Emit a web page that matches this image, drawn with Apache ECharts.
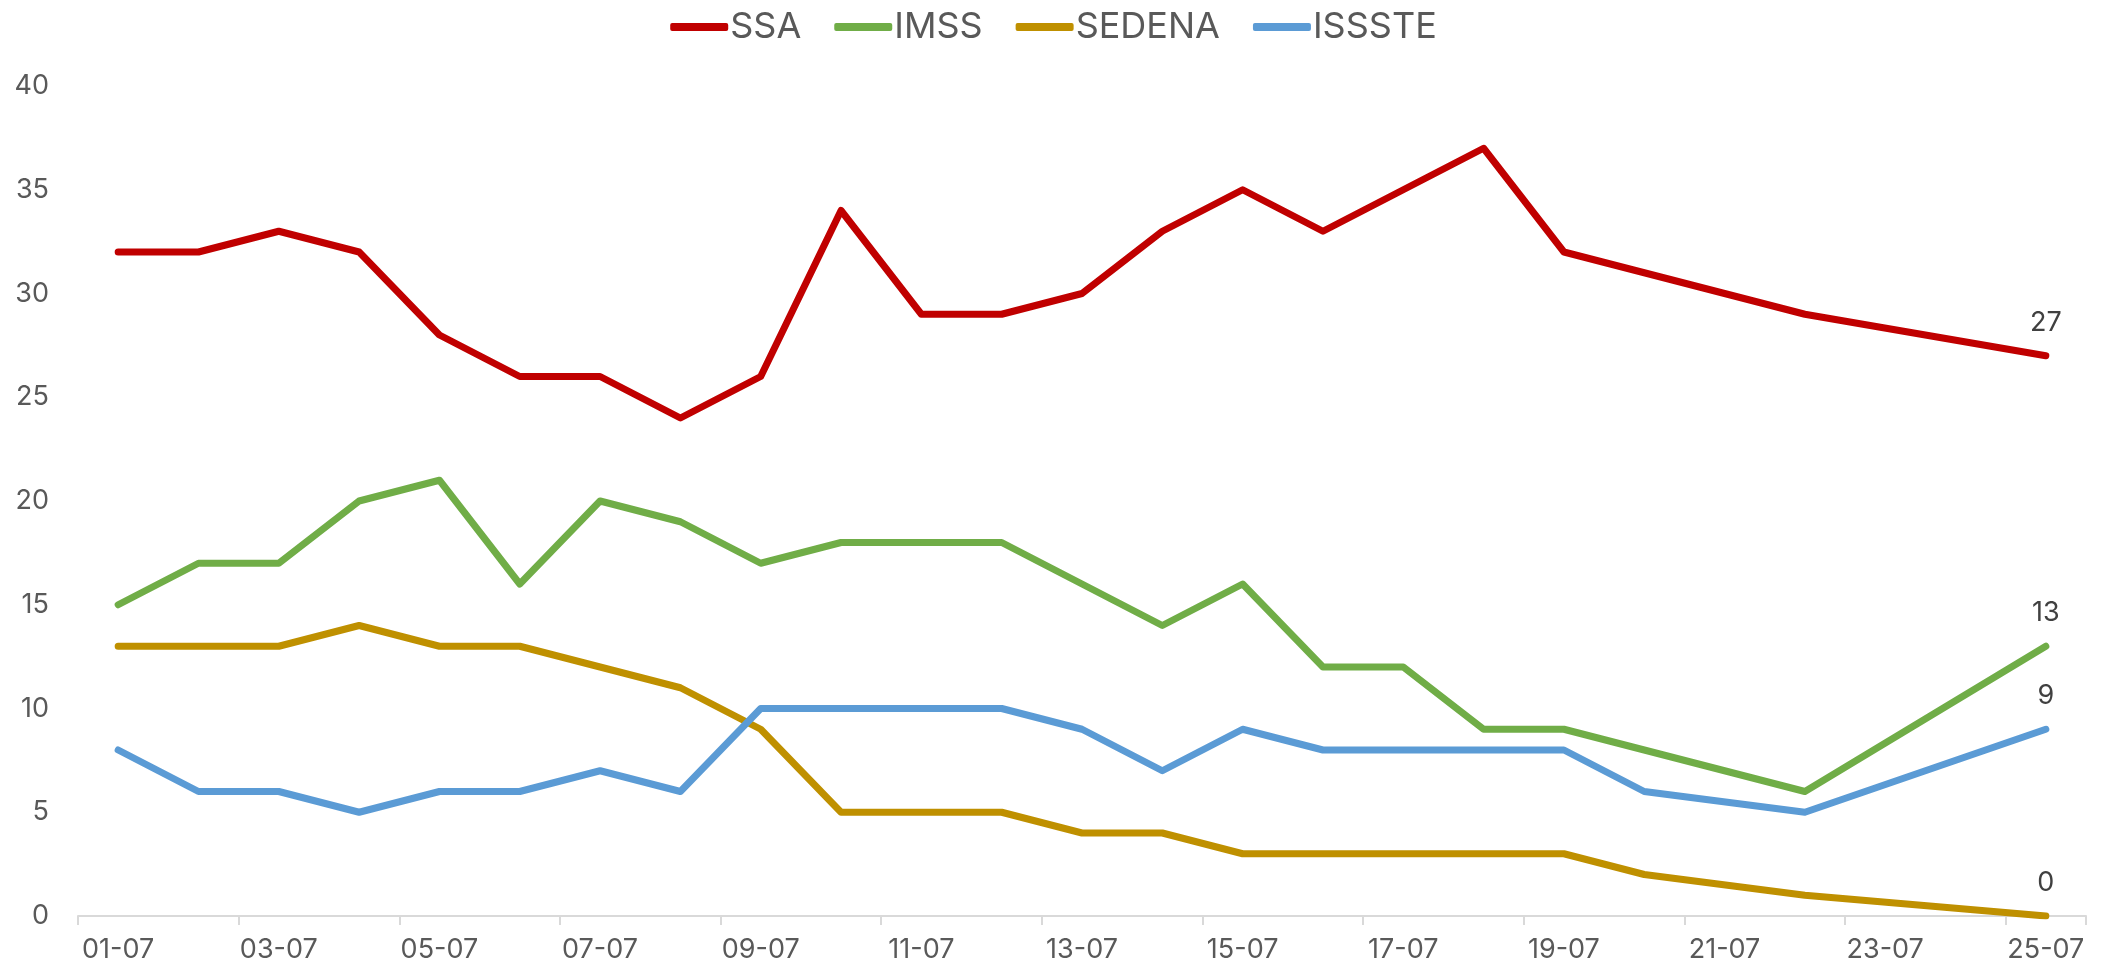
<!DOCTYPE html>
<html>
<head>
<meta charset="utf-8">
<style>
  html, body { margin: 0; padding: 0; background: #fff; }
  #chart { width: 2107px; height: 970px; }
</style>
<script src="https://cdn.jsdelivr.net/npm/echarts@6/dist/echarts.min.js"></script>
</head>
<body>
<div id="chart"></div>
<script>
const days = ['01-07', '02-07', '03-07', '04-07', '05-07', '06-07', '07-07', '08-07', '09-07',
  '10-07', '11-07', '12-07', '13-07', '14-07', '15-07', '16-07', '17-07', '18-07', '19-07',
  '20-07', '21-07', '22-07', '23-07', '24-07', '25-07']

const ssa = [32, 32, 33, 32, 28, 26, 26, 24, 26, 34, 29, 29, 30, 33, 35, 33, 35, 37, 32, 31, null, 29, null, null, 27]
const imss = [15, 17, 17, 20, 21, 16, 20, 19, 17, 18, 18, 18, 16, 14, 16, 12, 12, 9, 9, 8, null, 6, null, null, 13]
const sedena = [13, 13, 13, 14, 13, 13, 12, 11, 9, 5, 5, 5, 4, 4, 3, 3, 3, 3, 3, 2, null, 1, null, null, 0]
const issste = [8, 6, 6, 5, 6, 6, 7, 6, 10, 10, 10, 10, 9, 7, 9, 8, 8, 8, 8, 6, null, 5, null, null, 9]

const font = 'Inter, "Noto Sans", sans-serif'

function makeSeries(name, data, color) {
  const last = data.length - 1
  return {
    name: name,
    type: 'line',
    data: data,
    connectNulls: true,
    showSymbol: true,
    symbol: 'circle',
    symbolSize: 1,
    lineStyle: { width: 7, color: color, cap: 'round', join: 'round' },
    itemStyle: { color: color },
    label: {
      show: true,
      position: 'top',
      distance: 19,
      color: '#404040',
      fontSize: 27,
      fontFamily: font,
      formatter: p => (p.dataIndex === last ? String(p.value) : '')
    },
    emphasis: { disabled: true }
  }
}

const chart = echarts.init(document.getElementById('chart'))

chart.setOption({
  animation: false,
  textStyle: { fontFamily: font },
  legend: {
    top: 4,
    left: 'center',
    icon: 'roundRect',
    itemWidth: 58,
    itemHeight: 8,
    itemGap: 33,
    textStyle: { fontSize: 36, color: '#595959', fontFamily: font, padding: [0, 0, 0, -3] },
    data: ['SSA', 'IMSS', 'SEDENA', 'ISSSTE']
  },
  grid: {
    left: 78,
    right: 21,
    top: 86,
    bottom: 54,
    containLabel: false
  },
  xAxis: {
    type: 'category',
    data: days,
    boundaryGap: true,
    axisLine: { lineStyle: { color: '#d9d9d9', width: 2 } },
    axisTick: { show: true, interval: 1, length: 9, lineStyle: { color: '#d9d9d9', width: 2 } },
    axisLabel: { interval: 1, margin: 20, fontSize: 27, color: '#595959', fontFamily: font }
  },
  yAxis: {
    type: 'value',
    min: 0,
    max: 40,
    interval: 5,
    axisLine: { show: false },
    axisTick: { show: false },
    splitLine: { show: false },
    axisLabel: { margin: 29, fontSize: 27, color: '#595959', fontFamily: font }
  },
  series: [
    makeSeries('SSA', ssa, '#C00000'),
    makeSeries('IMSS', imss, '#70AD47'),
    makeSeries('SEDENA', sedena, '#BF9000'),
    makeSeries('ISSSTE', issste, '#5B9BD5')
  ]
})
</script>
</body>
</html>
